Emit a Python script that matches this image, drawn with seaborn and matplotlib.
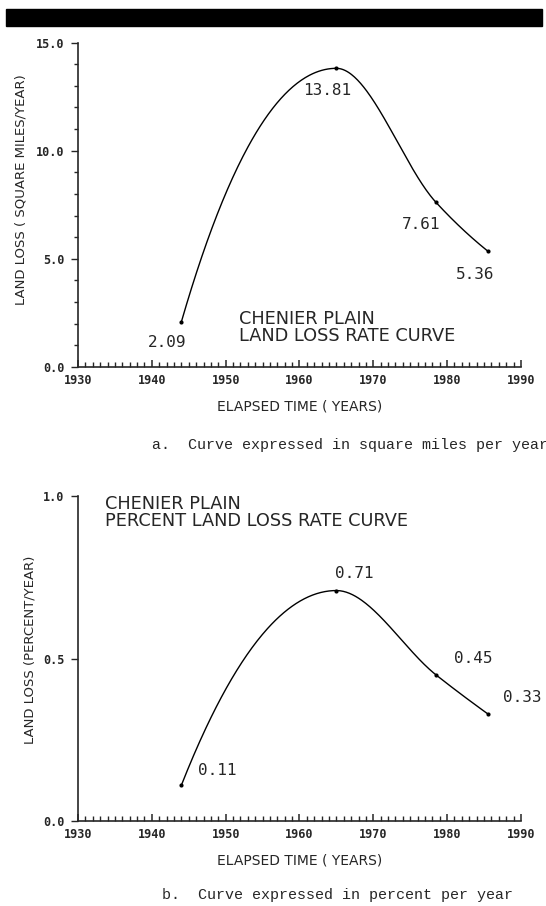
# Chenier Plain land loss rate curves (two panels)
import numpy as np
import seaborn as sns
import matplotlib.pyplot as plt
from matplotlib.patches import Rectangle
from matplotlib.ticker import MultipleLocator, FormatStrFormatter

# data
years = [1944, 1965, 1978.5, 1985.5]
sq_miles = [2.09, 13.81, 7.61, 5.36]
percent = [0.11, 0.71, 0.45, 0.33]
sq_labels = ["2.09", "13.81", "7.61", "5.36"]
pct_labels = ["0.11", "0.71", "0.45", "0.33"]
x_ticks = [1930, 1940, 1950, 1960, 1970, 1980, 1990]


def smooth(x, y, n=300):
    # monotone cubic (PCHIP) curve through the points, like the plotted curve
    x = np.asarray(x, float)
    y = np.asarray(y, float)
    h = np.diff(x)
    d = np.diff(y) / h
    m = np.zeros_like(y)
    for k in range(1, len(x) - 1):
        if d[k - 1] * d[k] > 0:
            w1 = 2 * h[k] + h[k - 1]
            w2 = h[k] + 2 * h[k - 1]
            m[k] = (w1 + w2) / (w1 / d[k - 1] + w2 / d[k])

    def end(h0, h1, d0, d1):
        s = ((2 * h0 + h1) * d0 - h0 * d1) / (h0 + h1)
        if np.sign(s) != np.sign(d0):
            return 0.0
        if np.sign(d0) != np.sign(d1) and abs(s) > 3 * abs(d0):
            return 3 * d0
        return s

    m[0] = end(h[0], h[1], d[0], d[1])
    m[-1] = end(h[-1], h[-2], d[-1], d[-2])
    xs = np.linspace(x[0], x[-1], n)
    i = np.clip(np.searchsorted(x, xs) - 1, 0, len(x) - 2)
    t = (xs - x[i]) / h[i]
    h00 = 2 * t**3 - 3 * t**2 + 1
    h10 = t**3 - 2 * t**2 + t
    h01 = -2 * t**3 + 3 * t**2
    h11 = t**3 - t**2
    ys = h00 * y[i] + h10 * h[i] * m[i] + h01 * y[i + 1] + h11 * h[i] * m[i + 1]
    return xs, ys


sns.set_style("ticks")
plt.rcParams["font.family"] = ["DejaVu Sans"]

fig = plt.figure(figsize=(5.46, 9.06), dpi=100)
fig.patches.append(Rectangle((0.011, 0.9713), 0.982, 0.0188, transform=fig.transFigure,
                             color="black", zorder=0))

ax1 = fig.add_axes([0.143, 0.595, 0.811, 0.358])
ax2 = fig.add_axes([0.143, 0.094, 0.811, 0.358])

mono = "DejaVu Sans Mono"


def draw(ax, y, labels, offsets, ymax, ymajor, yminor, ylabel, ylab_pos, xlab_y):
    xs, ys = smooth(years, y)
    sns.lineplot(x=xs, y=ys, ax=ax, color="black", lw=1.0, sort=False)
    sns.scatterplot(x=years, y=y, ax=ax, color="black", s=9, linewidth=0, zorder=3)
    for xv, yv, lab, off in zip(years, y, labels, offsets):
        ax.annotate(lab, (xv, yv), xytext=off, textcoords="offset pixels",
                    ha="center", va="center", fontsize=11.5, family=mono)
    ax.set_xlim(1930, 1990)
    ax.set_ylim(0, ymax)
    ax.set_xticks(x_ticks)
    ax.xaxis.set_minor_locator(MultipleLocator(1))
    ax.yaxis.set_major_locator(MultipleLocator(ymajor))
    if yminor:
        ax.yaxis.set_minor_locator(MultipleLocator(yminor))
    ax.yaxis.set_major_formatter(FormatStrFormatter("%.1f"))
    ax.tick_params(axis="x", which="major", direction="in", length=5, width=1.1, pad=5)
    ax.tick_params(axis="x", which="minor", direction="in", length=3.5, width=1.0)
    ax.tick_params(axis="y", which="major", direction="out", length=5, width=1.0, pad=5)
    ax.tick_params(axis="y", which="minor", direction="out", length=3, width=1.0)
    for t in ax.get_xticklabels() + ax.get_yticklabels():
        t.set_family(mono)
        t.set_fontweight("bold")
        t.set_fontsize(8.5)
    sns.despine(ax=ax)
    ax.spines["left"].set_linewidth(1.2)
    ax.spines["bottom"].set_linewidth(1.2)
    ax.set_xlabel("ELAPSED TIME ( YEARS)", fontsize=10)
    ax.xaxis.set_label_coords(0.5, xlab_y)
    ax.set_ylabel(ylabel, fontsize=9.5)
    ax.yaxis.set_label_coords(*ylab_pos)


draw(ax1, sq_miles, sq_labels, [(-14, -21), (-9, -22), (-15, -22), (-13, -23)],
     15, 5, 1, "LAND LOSS ( SQUARE MILES/YEAR)", (-0.115, 0.546), -0.099)
ax1.text(0.363, 0.122, "CHENIER PLAIN\nLAND LOSS RATE CURVE", transform=ax1.transAxes,
         fontsize=12.8, va="center", ha="left", linespacing=0.95)

draw(ax2, percent, pct_labels, [(36, 15), (18, 17), (37, 16), (35, 16)],
     1.0, 0.5, None, "LAND LOSS (PERCENT/YEAR)", (-0.095, 0.528), -0.102)
ax2.text(0.061, 0.951, "CHENIER PLAIN\nPERCENT LAND LOSS RATE CURVE", transform=ax2.transAxes,
         fontsize=12.8, va="center", ha="left", linespacing=0.95)

fig.text(0.278, 1 - 445 / 906, "a.  Curve expressed in square miles per year",
         family="Liberation Mono", fontsize=10.8, va="center", ha="left")
fig.text(0.297, 1 - 895 / 906, "b.  Curve expressed in percent per year",
         family="Liberation Mono", fontsize=10.8, va="center", ha="left")

fig.savefig("out.png", dpi=100)
